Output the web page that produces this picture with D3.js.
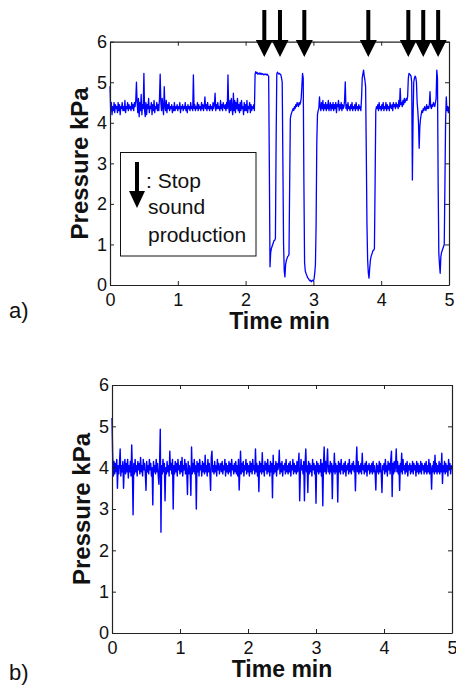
<!DOCTYPE html>
<html><head><meta charset="utf-8">
<script src="https://cdn.jsdelivr.net/npm/d3@7"></script>
<style>
html,body{margin:0;padding:0;background:#fff;}
svg{display:block;font-family:"Liberation Sans",Arial,Helvetica,sans-serif;}
</style></head>
<body>
<svg id="chart" width="456" height="686"></svg>
<script>
// ---- data ----
const timeStep = 0.01; // minutes between samples (t = 0 .. 5)
const xTicks = [0, 1, 2, 3, 4, 5];
const yTicks = [0, 1, 2, 3, 4, 5, 6];
const stopTimes = [2.276, 2.507, 2.866, 3.81, 4.40, 4.62, 4.84]; // arrows "stop sound production"

const pressureA = [
 4.9,4.3,4.5,4.2,4.4,4.3,4.5,4.25,4.45,4.35,
 4.4,4.25,4.5,4.3,4.45,4.2,4.4,4.35,4.5,4.3,
 4.4,4.3,4.55,4.25,4.4,4.35,4.5,4.3,4.45,4.35,
 4.4,4.3,4.5,4.35,4.45,4.3,4.5,4.4,4.55,5.0,
 4.5,4.25,4.6,4.15,4.5,4.3,4.7,4.2,4.45,4.35,
 5.22,4.3,4.15,4.5,4.2,4.45,4.35,4.6,4.25,4.4,
 4.35,4.5,4.2,4.45,4.3,4.55,4.25,4.4,4.35,4.5,
 4.3,4.45,4.3,4.6,5.2,4.5,4.3,4.6,4.35,4.2,
 4.89,4.4,4.3,4.55,4.25,4.45,4.35,4.5,4.3,4.4,
 4.35,4.45,4.25,4.4,4.3,4.5,4.3,4.4,4.35,4.45,
 4.3,4.4,4.35,4.5,4.25,4.4,4.35,4.45,4.3,4.4,
 4.35,4.5,4.3,4.4,4.25,4.45,4.35,4.4,4.3,4.5,
 4.35,4.4,4.3,5.18,4.35,4.45,4.3,4.4,4.35,4.5,
 4.3,4.45,4.35,4.4,4.3,4.5,4.35,4.45,4.3,4.4,
 4.64,4.35,4.45,4.3,4.5,4.35,4.4,4.3,4.45,4.35,
 4.4,4.3,4.5,4.35,4.45,4.73,4.3,4.45,4.35,4.5,
 4.35,4.4,4.3,4.55,4.35,4.45,4.3,4.5,4.4,4.35,
 4.45,4.3,4.5,4.35,5.18,4.4,4.25,4.55,4.3,4.6,
 4.35,4.2,4.73,4.3,4.55,4.25,4.5,4.35,4.6,4.3,
 4.45,4.25,4.5,4.3,4.55,4.35,4.4,4.2,4.5,4.3,
 4.45,4.3,4.55,4.25,4.4,4.35,4.5,4.25,4.45,4.3,
 4.4,4.35,4.45,4.3,5.2,5.26,5.22,5.24,5.2,5.22,
 5.2,5.23,5.2,5.22,5.19,5.21,5.2,5.18,5.2,5.19,
 5.2,5.18,5.2,5.17,5.15,3.0,0.45,0.8,0.9,0.95,
 1.0,1.05,1.1,1.1,1.15,3.5,5.2,5.25,5.22,5.2,
 5.22,5.2,5.18,5.1,5.0,3.0,1.0,0.35,0.2,0.5,
 0.6,0.65,0.7,0.72,0.75,2.5,4.1,4.2,4.25,4.3,
 4.35,4.3,4.4,4.35,4.45,4.4,4.5,4.45,4.4,4.5,
 4.45,4.5,4.6,4.9,5.22,5.1,2.5,0.55,0.35,0.29,
 0.25,0.2,0.17,0.15,0.12,0.1,0.12,0.08,0.1,0.12,
 0.1,0.15,0.3,0.5,1.5,3.5,4.2,4.3,4.35,4.64,
 4.4,4.3,4.5,4.35,4.55,4.3,4.45,4.35,4.5,4.3,
 4.45,4.35,4.55,4.3,4.4,4.5,4.3,4.45,4.35,4.5,
 4.3,4.45,4.35,4.5,4.25,4.45,4.4,4.55,4.3,4.45,
 4.35,4.5,4.3,4.45,4.35,4.4,4.55,5.01,4.35,4.45,
 4.3,4.5,4.35,4.4,4.3,4.45,4.35,4.5,4.3,4.4,
 4.35,4.45,4.3,4.5,4.35,4.4,4.3,4.45,4.35,4.4,
 4.3,4.6,5.1,5.2,5.3,5.15,5.05,4.9,3.3,1.5,
 0.62,0.3,0.17,0.4,0.6,0.7,0.75,0.8,0.85,0.86,
 0.9,2.5,4.3,4.4,4.35,4.45,4.3,4.5,4.35,4.4,
 4.3,4.45,4.35,4.5,4.3,4.4,4.35,4.5,4.3,4.45,
 4.35,4.4,4.3,4.5,4.4,4.35,4.45,4.3,4.5,4.4,
 4.45,4.35,4.5,4.4,4.45,4.35,4.55,4.4,4.85,4.45,
 4.5,4.4,4.55,4.45,4.6,4.5,4.55,4.6,4.55,4.65,
 5.1,5.22,5.2,5.18,5.15,5.0,2.59,4.12,5.0,5.1,
 5.15,5.12,5.0,4.5,4.3,4.0,3.37,3.9,4.1,4.2,
 4.3,4.25,4.35,4.3,4.4,4.35,4.3,4.45,4.35,4.4,
 4.35,4.45,4.77,4.4,4.35,4.45,4.4,4.5,4.45,4.4,
 4.5,4.6,5.3,5.1,2.5,0.78,0.5,0.29,0.7,0.8,
 0.85,0.9,0.95,1.0,2.5,4.07,4.64,4.3,4.4,4.25,
 4.4
];

const pressureB = [
 5.2,4.3,3.8,4.15,3.85,4.1,3.9,4.2,3.5,4.05,
 3.85,4.1,4.45,3.8,4.05,3.9,4.15,3.5,4.0,4.2,
 3.85,4.1,3.9,4.2,3.75,4.05,3.9,4.15,3.8,4.55,
 3.9,2.86,4.1,3.85,4.2,3.9,4.05,3.8,4.15,3.95,
 4.1,3.85,4.25,3.9,4.05,3.8,4.2,3.95,4.1,3.85,
 3.45,4.15,3.9,4.05,3.85,4.2,3.95,4.1,3.8,4.0,
 3.1,4.15,3.9,4.05,3.85,4.2,3.9,4.1,3.8,3.6,
 4.1,4.93,2.44,4.05,3.85,4.2,3.9,4.1,3.2,4.0,
 3.85,4.15,3.9,4.05,3.8,4.4,3.95,4.1,3.85,4.2,
 3.0,4.05,3.85,4.15,3.9,4.1,3.8,4.2,3.95,4.05,
 3.85,4.15,3.9,4.25,3.8,4.05,3.95,4.2,3.85,4.1,
 3.9,3.35,4.15,3.85,4.05,3.9,3.33,4.5,3.85,4.1,
 3.9,4.2,3.85,4.05,3.0,4.15,3.9,4.1,3.8,4.2,
 3.95,4.05,3.8,4.15,3.9,4.1,3.85,4.3,3.9,4.05,
 3.8,4.2,3.9,4.1,3.85,3.45,4.25,4.4,3.9,4.05,
 3.85,4.15,3.9,4.05,3.8,4.2,3.95,4.1,3.85,4.0,
 4.1,3.9,4.15,3.85,4.05,3.95,4.2,3.8,4.1,3.9,
 4.05,3.85,4.15,3.9,4.1,3.8,4.2,3.95,4.05,3.85,
 4.1,3.9,4.15,3.85,4.05,3.8,4.2,3.46,3.9,4.4,
 3.85,4.1,3.9,4.15,3.8,4.05,3.95,4.2,3.85,4.1,
 3.9,4.05,3.8,4.15,3.9,4.1,3.85,4.2,3.95,4.05,
 3.85,4.45,3.9,4.1,3.8,4.05,3.42,4.15,3.9,4.1,
 3.85,4.36,3.9,4.05,3.8,4.15,3.95,4.1,3.85,4.2,
 3.9,4.05,3.8,4.15,3.9,4.1,3.27,4.3,3.85,4.05,
 3.9,4.15,3.8,4.1,3.95,4.05,4.42,3.85,4.1,3.9,
 4.15,3.8,4.05,3.95,4.1,3.85,4.2,3.9,4.05,3.85,
 4.1,3.9,4.15,3.8,4.05,3.95,4.2,3.85,4.1,3.9,
 4.05,3.85,4.15,3.9,4.1,4.35,3.2,3.85,4.2,3.95,
 4.05,3.85,4.15,3.2,4.1,4.45,3.9,4.05,3.4,4.15,
 3.85,4.1,3.9,4.05,3.8,4.2,3.95,4.1,3.85,4.05,
 3.14,4.15,3.9,4.1,3.85,4.05,3.9,4.2,3.8,4.1,
 3.08,4.05,4.5,3.9,4.15,3.85,4.1,4.45,3.9,4.05,
 3.85,4.15,3.9,4.1,3.25,4.05,3.9,4.35,3.85,4.1,
 3.9,4.05,3.17,4.15,3.9,4.1,3.85,4.2,3.95,4.05,
 3.85,4.1,3.9,4.15,3.8,4.05,3.95,4.1,3.85,4.2,
 3.9,4.05,3.85,4.1,3.95,4.15,3.9,4.05,3.44,4.1,
 4.5,3.9,4.15,3.85,4.05,3.9,4.1,3.85,4.35,3.95,
 4.05,3.85,4.1,3.9,4.15,3.8,4.05,3.95,4.1,3.85,
 4.05,3.9,4.1,3.85,4.15,3.9,4.05,3.85,3.46,4.1,
 3.9,4.05,3.85,4.15,3.9,4.1,3.85,3.4,4.05,3.95,
 4.1,3.85,4.2,3.9,4.05,3.8,4.15,3.95,4.1,3.85,
 4.2,4.4,3.3,4.1,3.85,4.15,3.9,4.05,4.45,3.9,
 4.15,3.85,4.05,3.45,4.1,3.9,4.35,3.85,4.2,3.95,
 4.05,3.85,4.1,3.9,4.15,3.8,4.05,3.95,4.1,3.85,
 4.05,3.9,4.15,3.85,4.1,3.95,4.05,3.8,4.15,3.9,
 4.1,3.85,4.05,3.9,4.15,3.85,4.1,3.95,4.05,3.85,
 4.1,3.9,4.15,3.85,4.05,3.9,4.2,3.85,4.1,3.95,
 3.48,4.05,3.9,4.15,3.85,4.3,3.9,4.1,3.85,4.05,
 3.9,4.15,3.85,4.1,3.9,4.35,3.62,4.05,3.9,4.15,
 3.85,4.1,3.9,4.05,3.8,4.2,3.95,4.1,3.85,4.05,
 3.95
];

const panelLabels = ["a)", "b)"];
const xLabel = "Time min";
const yLabel = "Pressure kPa";
const legendLines = [": Stop", "sound", "production"];

// ---- drawing ----
const svg = d3.select("#chart");
const FONT = "\"Liberation Sans\",Arial,Helvetica,sans-serif";

function panel(cfg) {
  const x = d3.scaleLinear().domain([0, 5]).range([cfg.x0, cfg.x1]);
  const y = d3.scaleLinear().domain([0, 6]).range([cfg.y0, cfg.y1]);
  const g = svg.append("g");

  // trace
  const pts = cfg.values.map((v, i) => [i * timeStep, v]);
  g.append("path")
    .datum(pts)
    .attr("fill", "none")
    .attr("stroke", "#0000ff")
    .attr("stroke-width", cfg.lineW)
    .attr("stroke-linejoin", "round")
    .attr("d", d3.line().x(d => x(d[0])).y(d => y(d[1])));

  const styleAxis = sel => {
    sel.select(".domain").attr("stroke", "#222").attr("stroke-width", 1.2);
    sel.selectAll(".tick line").attr("stroke", "#222");
    sel.selectAll(".tick text").attr("fill", "#111")
      .style("font-family", FONT).style("font-size", "18px");
  };

  g.append("g").attr("transform", `translate(0,${cfg.y0})`)
    .call(d3.axisBottom(x).tickValues(xTicks).tickFormat(d3.format("d"))
      .tickSize(-4).tickSizeOuter(0).tickPadding(8))
    .call(styleAxis);
  g.append("g").attr("transform", `translate(${cfg.x0},0)`)
    .call(d3.axisLeft(y).tickValues(yTicks).tickFormat(d3.format("d"))
      .tickSize(-4).tickSizeOuter(0).tickPadding(3))
    .call(styleAxis);
  g.append("g").attr("transform", `translate(0,${cfg.y1})`)
    .call(d3.axisTop(x).tickValues(xTicks).tickFormat("")
      .tickSize(-4).tickSizeOuter(0))
    .call(styleAxis);
  g.append("g").attr("transform", `translate(${cfg.x1},0)`)
    .call(d3.axisRight(y).tickValues(yTicks).tickFormat("")
      .tickSize(-4).tickSizeOuter(0))
    .call(styleAxis);

  // axis labels
  g.append("text")
    .attr("x", (cfg.x0 + cfg.x1) / 2).attr("y", cfg.y0 + 44)
    .attr("text-anchor", "middle")
    .style("font-family", FONT).style("font-size", "23px").style("font-weight", "bold")
    .attr("fill", "#111")
    .text(xLabel);
  g.append("text")
    .attr("transform", `translate(${cfg.x0 - 22},${(cfg.y0 + cfg.y1) / 2}) rotate(-90)`)
    .attr("text-anchor", "middle")
    .style("font-family", FONT).style("font-size", "24px").style("font-weight", "bold")
    .attr("fill", "#111")
    .text(yLabel);

  // panel label
  g.append("text")
    .attr("x", 9).attr("y", cfg.y0 + cfg.labelDy)
    .style("font-family", FONT).style("font-size", "22px")
    .attr("fill", "#111")
    .text(cfg.label);

  return { x, y, g };
}

function arrow(g, cx, yTop, yTip, headW, headH, shaftW) {
  g.append("rect")
    .attr("x", cx - shaftW / 2).attr("y", yTop)
    .attr("width", shaftW).attr("height", yTip - headH - yTop + 2)
    .attr("fill", "#000");
  g.append("path")
    .attr("d", `M${cx - headW / 2},${yTip - headH} L${cx + headW / 2},${yTip - headH} L${cx},${yTip} Z`)
    .attr("fill", "#000");
}

const A = panel({ values: pressureA, x0: 110, x1: 449, y0: 285, y1: 41.7, label: panelLabels[0], labelDy: 33, lineW: 1.3 });
const B = panel({ values: pressureB, x0: 112, x1: 452, y0: 633, y1: 385, label: panelLabels[1], labelDy: 47, lineW: 1.4 });

// stop arrows above panel a
stopTimes.forEach(t => arrow(A.g, A.x(t), 10, 57, 17, 17, 4));

// legend box in panel a
const lg = A.g.append("g");
lg.append("rect")
  .attr("x", 120.5).attr("y", 152.5).attr("width", 135.5).attr("height", 103.5)
  .attr("fill", "#fff").attr("stroke", "#111").attr("stroke-width", 1);
arrow(lg, 137, 162, 208, 16, 17, 4);
legendLines.forEach((s, i) => {
  lg.append("text")
    .attr("x", i === 0 ? 146 : 148).attr("y", [188, 214, 242][i])
    .style("font-family", FONT).style("font-size", "21px")
    .attr("fill", "#111")
    .text(s);
});
</script>
</body></html>
